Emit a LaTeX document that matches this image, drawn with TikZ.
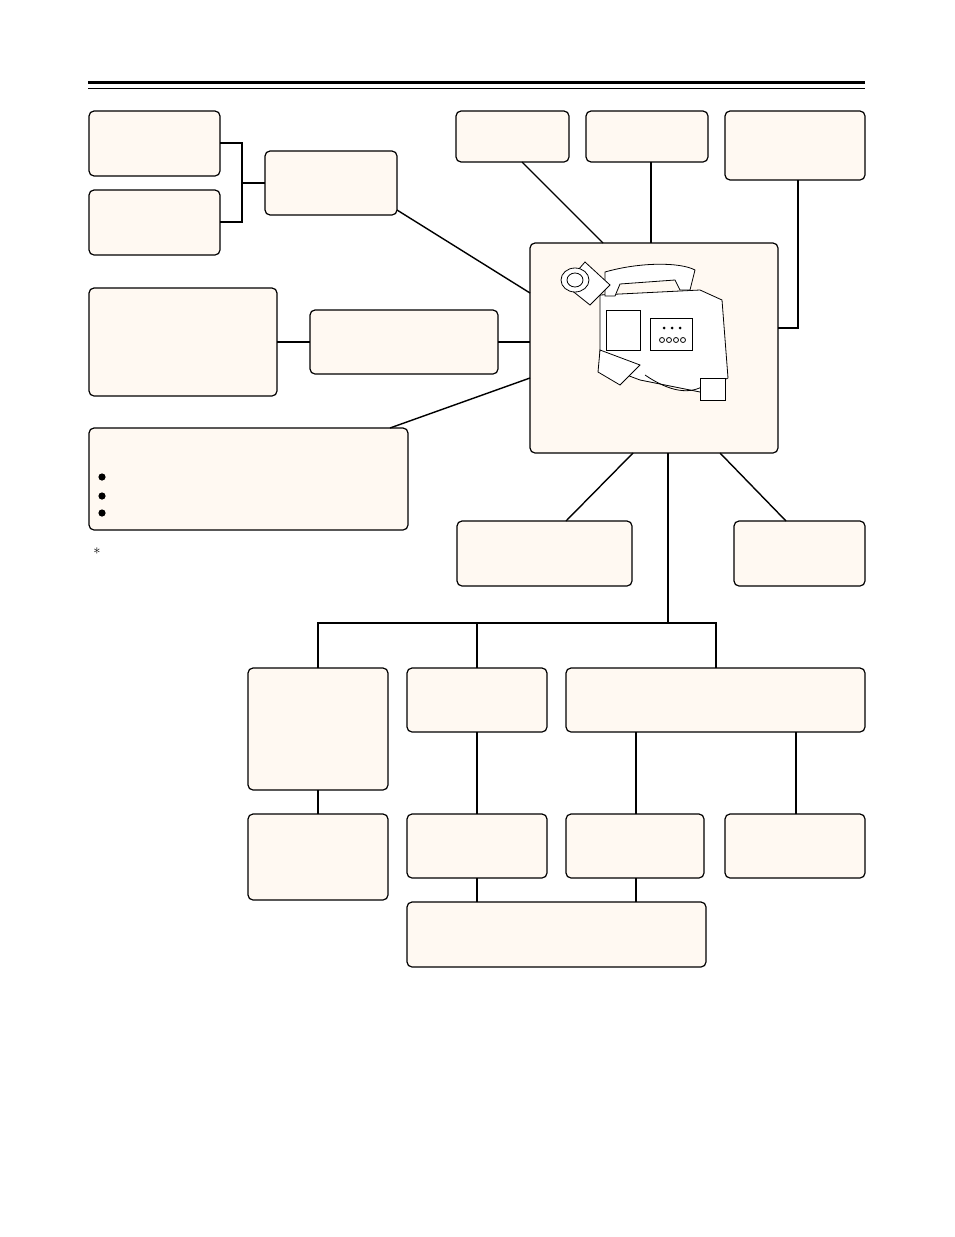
\documentclass[tikz,border=0pt]{standalone}
\usepackage{tikz}
\definecolor{boxfill}{HTML}{FFF9F2}
\tikzset{
  unitbox/.style={draw,fill=boxfill,rounded corners=5pt,line width=1.2pt},
  link/.style={line width=1.4pt},
}
\begin{document}
\begin{tikzpicture}[x=1pt,y=-1pt]
  \useasboundingbox (0,0) rectangle (954,1237);
  % title rules
  \draw[line width=3pt] (88,82) -- (865,82);
  \draw[line width=0.8pt] (88,88) -- (865,88);
  % left units
  \path[unitbox] (89,111) rectangle (220,176);
  \path[unitbox] (89,190) rectangle (220,255);
  \path[unitbox] (265,151) rectangle (397,215);
  \path[unitbox] (89,288) rectangle (277,396);
  \path[unitbox] (310,310) rectangle (498,374);
  \path[unitbox] (89,428) rectangle (408,530);
  \foreach \y in {477,496,513}
    \fill (102,\y) circle (3.6pt);
  \node[font=\Large,inner sep=0pt] (note) at (97,551) {$*$};
  % top units
  \path[unitbox] (456,111) rectangle (569,162);
  \path[unitbox] (586,111) rectangle (708,162);
  \path[unitbox] (725,111) rectangle (865,180);
  % camera
  \path[unitbox] (530,243) rectangle (778,453);
  \begin{scope}[line width=0.8pt]
    \draw[fill=white] (600,295) -- (700,290) -- (722,300) -- (728,378) -- (700,392) -- (640,380) -- (600,365) -- cycle;
    \draw[fill=white] (605,272) .. controls (640,262) and (680,262) .. (695,270) -- (690,290) -- (680,290) -- (675,280) -- (620,284) -- (615,296) -- (605,296) -- cycle;
    \draw[fill=white] (585,262) -- (610,285) -- (590,305) -- (565,285) -- cycle;
    \draw[fill=white] (575,280) ellipse (14pt and 12pt);
    \draw (575,280) ellipse (8pt and 7pt);
    \draw[fill=white] (650,318) rectangle (692,350);
    \foreach \i in {0,1,2,3} \draw (662+\i*7,340) circle (2.5pt);
    \foreach \i in {0,1,2} \fill (664+\i*8,328) circle (1.5pt);
    \draw[fill=white] (600,350) -- (640,365) -- (620,385) -- (598,372) -- cycle;
    \draw (645,375) .. controls (670,392) and (690,395) .. (705,385);
    \draw[fill=white] (700,378) rectangle (725,400);
    \draw (606,310) rectangle (640,350);
  \end{scope}
  % right and lower units
  \path[unitbox] (457,521) rectangle (632,586);
  \path[unitbox] (734,521) rectangle (865,586);
  \path[unitbox] (248,668) rectangle (388,790);
  \path[unitbox] (407,668) rectangle (547,732);
  \path[unitbox] (566,668) rectangle (865,732);
  \path[unitbox] (248,814) rectangle (388,900);
  \path[unitbox] (407,814) rectangle (547,878);
  \path[unitbox] (566,814) rectangle (704,878);
  \path[unitbox] (725,814) rectangle (865,878);
  \path[unitbox] (407,902) rectangle (706,967);
  % connectors
  \draw[link] (220,143) -- (242,143) -- (242,222) -- (220,222);
  \draw[link] (242,183) -- (265,183);
  \draw[link] (397,210) -- (530,293);
  \draw[link] (277,342) -- (310,342);
  \draw[link] (498,342) -- (530,342);
  \draw[link] (390,428) -- (530,378);
  \draw[link] (522,162) -- (603,243);
  \draw[link] (651,162) -- (651,243);
  \draw[link] (798,180) -- (798,328) -- (778,328);
  \draw[link] (633,453) -- (566,521);
  \draw[link] (720,453) -- (786,521);
  \draw[link] (668,453) -- (668,623);
  \draw[link] (318,668) -- (318,623) -- (716,623) -- (716,668);
  \draw[link] (477,623) -- (477,668);
  \draw[link] (318,790) -- (318,814);
  \draw[link] (477,732) -- (477,814);
  \draw[link] (636,732) -- (636,814);
  \draw[link] (796,732) -- (796,814);
  \draw[link] (477,878) -- (477,902);
  \draw[link] (636,878) -- (636,902);
\end{tikzpicture}
\end{document}
